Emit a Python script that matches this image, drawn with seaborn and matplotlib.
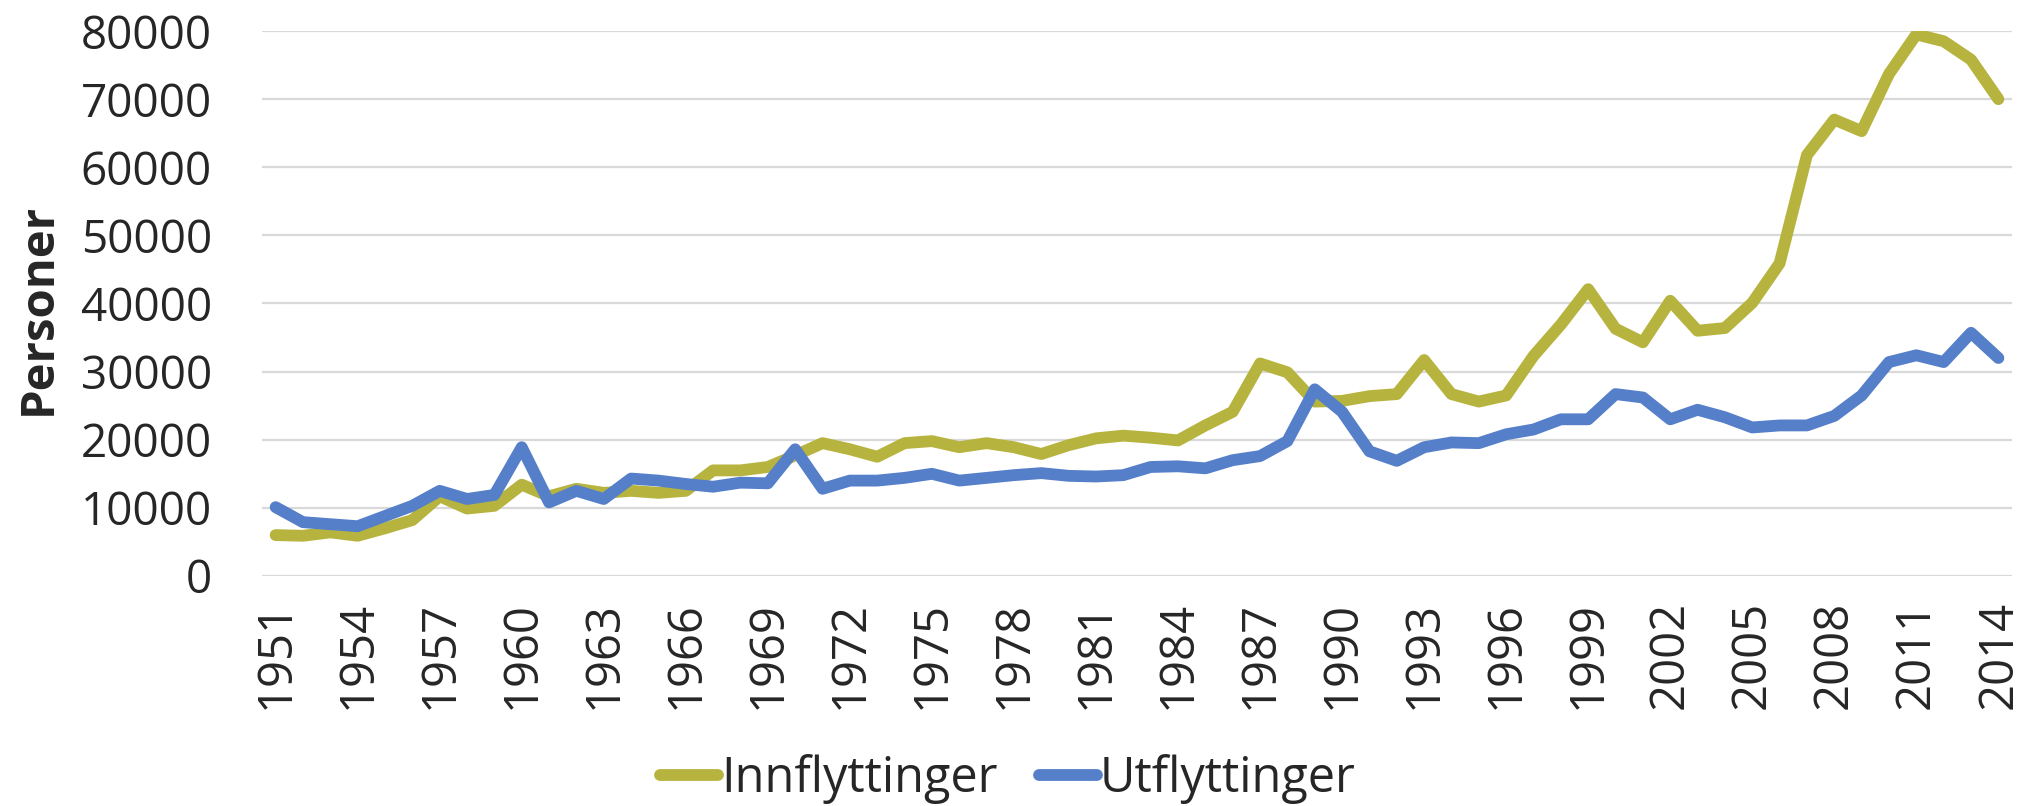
import numpy as np
import pandas as pd
import matplotlib
matplotlib.use('Agg')
import matplotlib.pyplot as plt
import seaborn as sns

# === Data ===
years = list(range(1951, 2015))

innflyttinger = [
    6000, 5900, 6400, 5900, 7000, 8200, 11700, 9900, 10300, 13400,   # 1951-1960
    11700, 12800, 12200, 12500, 12200, 12500, 15500, 15500, 16000, 17700,  # 1961-1970
    19500, 18600, 17500, 19500, 19800, 18900, 19500, 18900, 17900, 19200,  # 1971-1980
    20200, 20600, 20300, 19900, 22100, 24100, 31200, 29900, 25600, 25700,  # 1981-1990
    26400, 26700, 31700, 26700, 25600, 26500, 32300, 36900, 42100, 36300,  # 1991-2000
    34300, 40400, 36000, 36400, 40100, 45900, 61800, 67000, 65300, 73700,  # 2001-2010
    79500, 78500, 75800, 70000,                                             # 2011-2014
]

utflyttinger = [
    10100, 7900, 7600, 7300, 8800, 10300, 12500, 11300, 11900, 18900,     # 1951-1960
    10800, 12500, 11300, 14300, 14000, 13500, 13100, 13700, 13600, 18600,  # 1961-1970
    12800, 14000, 14000, 14400, 15000, 14000, 14400, 14800, 15100, 14700,  # 1971-1980
    14600, 14800, 16000, 16100, 15800, 17000, 17600, 19800, 27400, 24100,  # 1981-1990
    18300, 16900, 18900, 19600, 19500, 20800, 21500, 23000, 23000, 26700,  # 1991-2000
    26200, 23000, 24400, 23300, 21800, 22100, 22100, 23500, 26500, 31400,  # 2001-2010
    32400, 31400, 35700, 32000,                                             # 2011-2014
]

series_names = ['Innflyttinger', 'Utflyttinger']
series_colors = ['#B6B43E', '#557FC9']
y_ticks = [0, 10000, 20000, 30000, 40000, 50000, 60000, 70000, 80000]

df = pd.DataFrame({'År': years,
                   'Innflyttinger': innflyttinger,
                   'Utflyttinger': utflyttinger})
long = df.melt(id_vars='År', var_name='Serie', value_name='Personer')
long['pos'] = long['År'] - years[0]

# === Style ===
sns.set_style('white')
plt.rcParams['font.family'] = ['Open Sans', 'DejaVu Sans']

fig = plt.figure(figsize=(20.4, 8.06), dpi=100)
ax = fig.add_axes([0.1284, 0.2854, 0.8579, 0.6761])

sns.lineplot(data=long, x='pos', y='Personer', hue='Serie',
             hue_order=series_names, palette=series_colors,
             linewidth=8.5, ax=ax, legend=False)
for line in ax.lines:
    line.set_solid_capstyle('round')
    line.set_solid_joinstyle('round')

# === Axes ===
ax.set_xlim(-0.5, len(years) - 0.5)
ax.set_ylim(0, 80000)
ax.set_yticks(y_ticks)
ax.set_yticklabels([str(v) for v in y_ticks])
tick_pos = list(range(0, len(years), 3))
ax.set_xticks(tick_pos)
ax.set_xticklabels([str(years[i]) for i in tick_pos], rotation=90)

ax.grid(axis='y', color='#D9D9D9', linewidth=1.6)
ax.grid(axis='x', visible=False)
ax.set_axisbelow(True)
for s in ax.spines.values():
    s.set_visible(False)

ax.tick_params(axis='y', length=0, pad=36, labelsize=33)
ax.tick_params(axis='x', length=0, pad=18, labelsize=34)
ax.set_xlabel('')
ax.set_ylabel('Personer', fontsize=34, fontweight='bold')
ax.yaxis.set_label_coords(-0.1145, 0.49)

# === Legend ===
handles = [plt.Line2D([0], [0], color=c, linewidth=8.5, solid_capstyle='round')
           for c in series_colors]
fig.legend(handles, series_names, loc='center', bbox_to_anchor=(0.494, 0.033),
           ncol=2, frameon=False, fontsize=35, handlelength=1.2,
           handletextpad=0.05, columnspacing=0.85)

fig.savefig('out.png', dpi=100)
